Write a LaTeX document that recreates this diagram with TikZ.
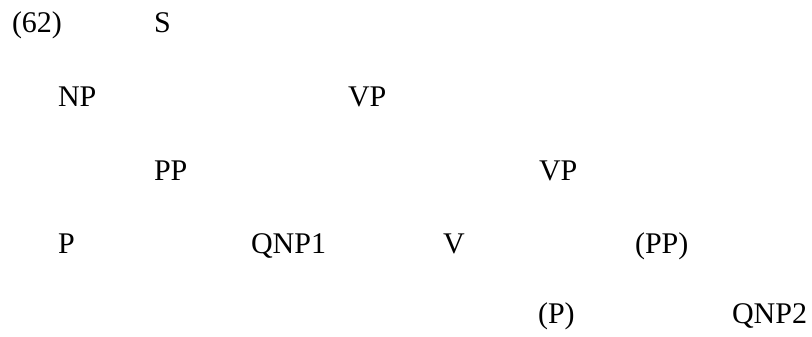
\documentclass[tikz,border=0pt]{standalone}
\usepackage{fontspec}
\setmainfont{Liberation Serif}
\begin{document}
\begin{tikzpicture}[x=0.4pt,y=-0.4pt,
  lbl/.style={anchor=base west,inner sep=0pt,outer sep=0pt,font=\fontsize{12}{14}\selectfont}]
\useasboundingbox (0,0) rectangle (812,337);
% example number and root
\node[lbl] (num) at (12,33) {(62)};
\node[lbl] (s) at (154,33) {S};
% second level
\node[lbl] (np) at (58,107) {NP};
\node[lbl] (vp1) at (348,107) {VP};
% third level
\node[lbl] (pp1) at (154,181) {PP};
\node[lbl] (vp2) at (539,181) {VP};
% fourth level
\node[lbl] (p1) at (58,254) {P};
\node[lbl] (qnp1) at (251,254) {QNP1};
\node[lbl] (v) at (443,254) {V};
\node[lbl] (pp2) at (635,254) {(PP)};
% fifth level
\node[lbl] (p2) at (538,324) {(P)};
\node[lbl] (qnp2) at (732,324) {QNP2};
\end{tikzpicture}
\end{document}
